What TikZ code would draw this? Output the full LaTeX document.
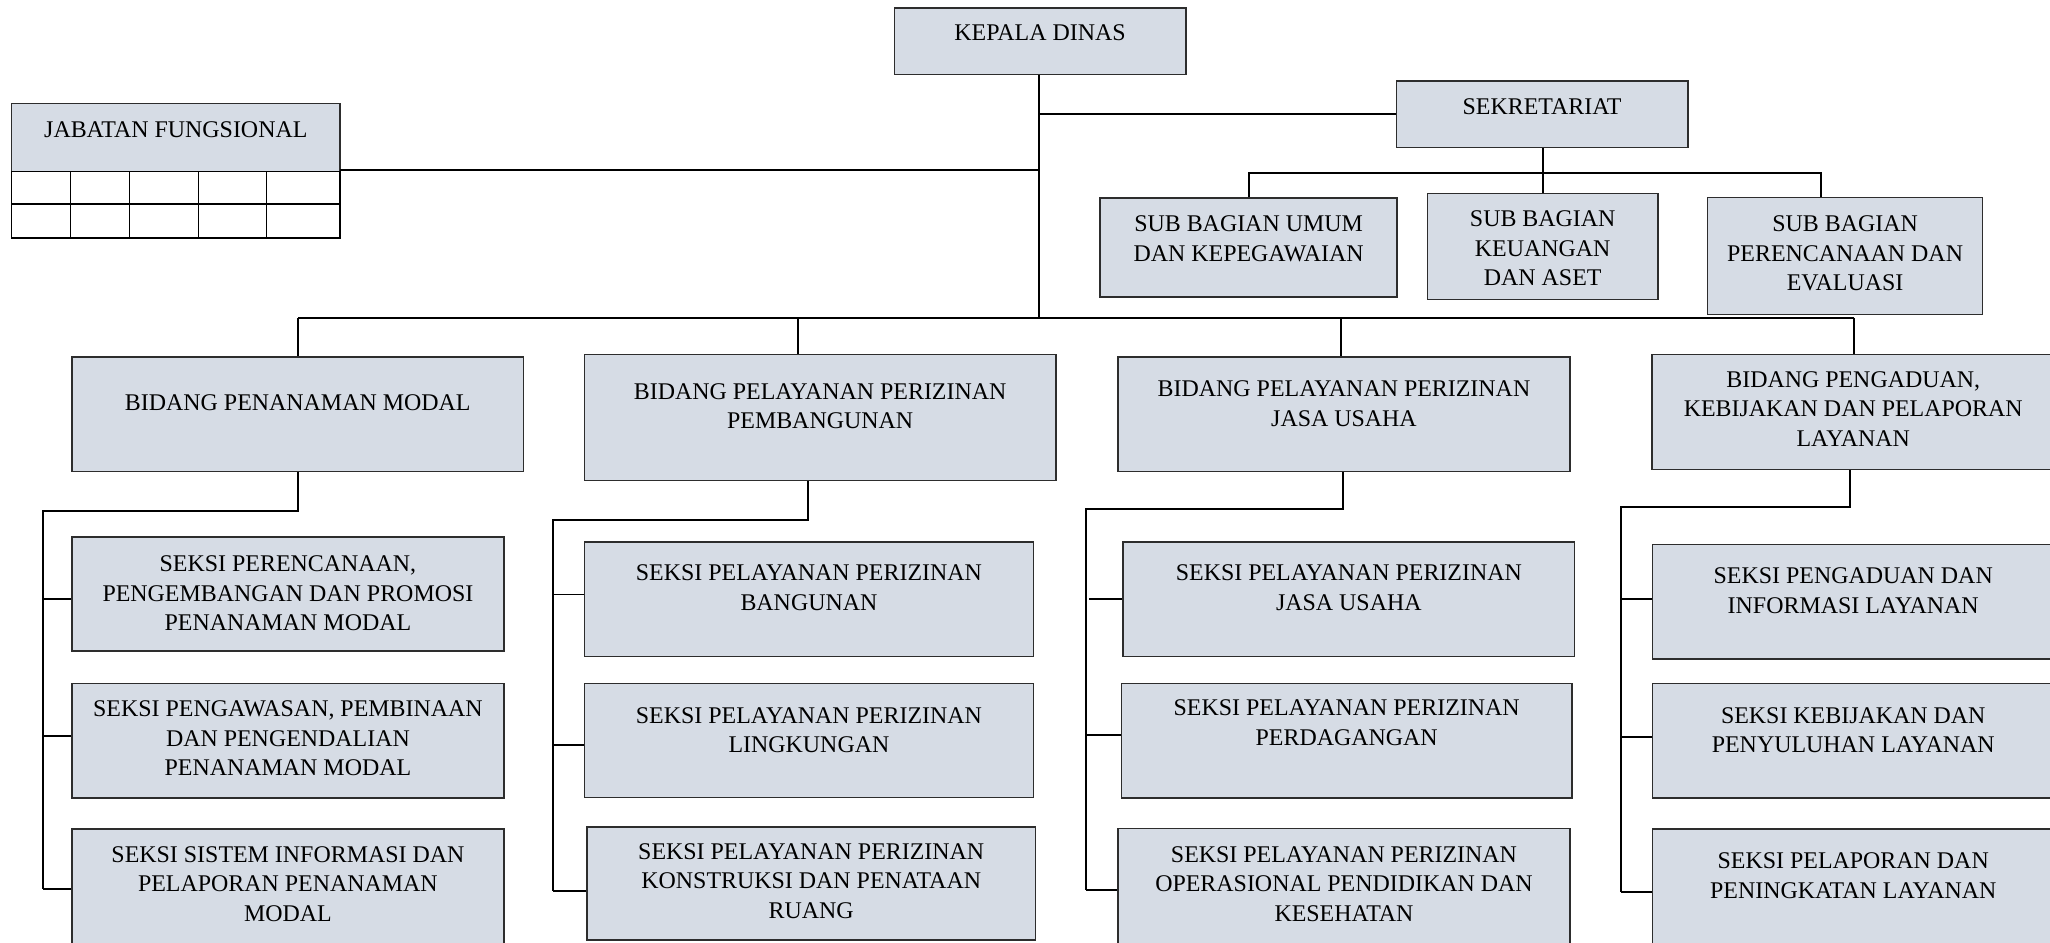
\documentclass[tikz,border=0pt]{standalone}
\usepackage{fontspec}
\setmainfont{Liberation Serif}
\usetikzlibrary{fit}
\definecolor{boxfill}{RGB}{214,220,229}
\definecolor{boxedge}{RGB}{45,45,45}
\tikzset{
  box/.style={draw=boxedge, line width=1.1pt, fill=boxfill, inner sep=0pt, rectangle},
  cell/.style={draw=black, line width=1.1pt, fill=white},
  txt/.style={anchor=north, inner sep=0pt, align=center, text=black,
    font=\fontsize{18.3}{22.6}\selectfont},
  conn/.style={draw=black, line width=1.5pt},
}
\begin{document}
\begin{tikzpicture}[x=1pt,y=-1pt]
\useasboundingbox (0,0) rectangle (1568,721);
\clip (0,0) rectangle (1568,721);

% ---- boxes ----
\node[box, fit={(684,6) (907,57)}] (kd) {};
\node[box, fit={(1068,62) (1291,113)}] (sek) {};
\node[box, fit={(9,79) (260,131)}] (jf) {};
\node[box, fit={(841.5,151.5) (1068.5,227)}] (umum) {};
\node[box, fit={(1092,148) (1268,229)}] (keu) {};
\node[box, fit={(1306,151) (1516.5,240.7)}] (pere) {};

\node[box, fit={(55,273) (400.5,360.6)}] (b1) {};
\node[box, fit={(447,271) (807.6,367.5)}] (b2) {};
\node[box, fit={(855,273) (1201,360.6)}] (b3) {};
\node[box, fit={(1263.7,271) (1572,359)}] (b4) {};

\node[box, fit={(55,410.8) (385.5,498)}] (s11) {};
\node[box, fit={(55,522.8) (385.5,610.4)}] (s12) {};
\node[box, fit={(55,634) (385.5,726)}] (s13) {};
\node[box, fit={(447,414.6) (790.5,502)}] (s21) {};
\node[box, fit={(447,522.8) (790.5,610)}] (s22) {};
\node[box, fit={(449,632.5) (792,719)}] (s23) {};
\node[box, fit={(859,414.6) (1204.4,502)}] (s31) {};
\node[box, fit={(857.6,522.8) (1202.5,610.4)}] (s32) {};
\node[box, fit={(855,633.5) (1201,728)}] (s33) {};
\node[box, fit={(1264,416.5) (1572,504)}] (s41) {};
\node[box, fit={(1264,522.8) (1572,610.4)}] (s42) {};
\node[box, fit={(1264,634) (1572,728)}] (s43) {};

% ---- table under Jabatan Fungsional ----
\foreach \xa/\xb in {9/54,54/99,99/152,152/204,204/260}{
  \draw[cell] (\xa,131) rectangle (\xb,156);
  \draw[cell] (\xa,156) rectangle (\xb,182);
}

% ---- texts ----
\node[txt] (kdT) at (kd.north |- 0,19) {KEPALA DINAS};
\node[txt] (sekT) at (sek.north |- 0,75) {SEKRETARIAT};
\node[txt] (jfT) at (jf.north |- 0,93) {JABATAN FUNGSIONAL};
\node[txt] (umumT) at (umum.north |- 0,165) {SUB BAGIAN UMUM\\DAN KEPEGAWAIAN};
\node[txt] (keuT) at (keu.north |- 0,161) {SUB BAGIAN\\KEUANGAN\\DAN ASET};
\node[txt] (pereT) at (pere.north |- 0,165) {SUB BAGIAN\\PERENCANAAN DAN\\EVALUASI};

\node[txt] (b1T) at (b1.north |- 0,302) {BIDANG PENANAMAN MODAL};
\node[txt] (b2T) at (b2.north |- 0,293) {BIDANG PELAYANAN PERIZINAN\\PEMBANGUNAN};
\node[txt] (b3T) at (b3.north |- 0,291) {BIDANG PELAYANAN PERIZINAN\\JASA USAHA};
\node[txt] (b4T) at (1417.5,284) {BIDANG PENGADUAN,\\KEBIJAKAN DAN PELAPORAN\\LAYANAN};

\node[txt] (s11T) at (s11.north |- 0,425) {SEKSI PERENCANAAN,\\PENGEMBANGAN DAN PROMOSI\\PENANAMAN MODAL};
\node[txt] (s12T) at (s12.north |- 0,536) {SEKSI PENGAWASAN, PEMBINAAN\\DAN PENGENDALIAN\\PENANAMAN MODAL};
\node[txt] (s13T) at (s13.north |- 0,647) {SEKSI SISTEM INFORMASI DAN\\PELAPORAN PENANAMAN\\MODAL};
\node[txt] (s21T) at (s21.north |- 0,432) {SEKSI PELAYANAN PERIZINAN\\BANGUNAN};
\node[txt] (s22T) at (s22.north |- 0,541) {SEKSI PELAYANAN PERIZINAN\\LINGKUNGAN};
\node[txt] (s23T) at (s23.north |- 0,645) {SEKSI PELAYANAN PERIZINAN\\KONSTRUKSI DAN PENATAAN\\RUANG};
\node[txt] (s31T) at (s31.north |- 0,432) {SEKSI PELAYANAN PERIZINAN\\JASA USAHA};
\node[txt] (s32T) at (s32.north |- 0,535) {SEKSI PELAYANAN PERIZINAN\\PERDAGANGAN};
\node[txt] (s33T) at (s33.north |- 0,647) {SEKSI PELAYANAN PERIZINAN\\OPERASIONAL PENDIDIKAN DAN\\KESEHATAN};
\node[txt] (s41T) at (1417.5,434) {SEKSI PENGADUAN DAN\\INFORMASI LAYANAN};
\node[txt] (s42T) at (1417.5,541) {SEKSI KEBIJAKAN DAN\\PENYULUHAN LAYANAN};
\node[txt] (s43T) at (1417.5,652) {SEKSI PELAPORAN DAN\\PENINGKATAN LAYANAN};

% ---- top connectors ----
\coordinate (mainJ) at (795,243);
\draw[conn] (795,0 |- kd.south) -- (mainJ);
\draw[conn] (795,0 |- sek.west) -- (sek.west);
\draw[conn] (260,130) -- (795,130);
\draw[conn] (1180,0 |- sek.south) -- (1180,0 |- keu.north);
\draw[conn] (umum.north) -- (955,132) -- (1393,132) -- (1393,0 |- pere.north);

% ---- main horizontal and drops to bidang ----
\draw[conn] (228,243) -- (1418,243);
\draw[conn] (228,243) -- (228,0 |- b1.north);
\draw[conn] (610,243) -- (610,0 |- b2.north);
\draw[conn] (1026,243) -- (1026,0 |- b3.north);
\draw[conn] (1418,243) -- (1418,0 |- b4.north);

% ---- bidang 1 ----
\draw[conn] (228,0 |- b1.south) -- (228,391) -- (33,391) -- (33,680);
\draw[conn] (33,458) -- (s11.west |- 0,458);
\draw[conn] (33,563) -- (s12.west |- 0,563);
\draw[conn] (33,680) -- (s13.west |- 0,680);

% ---- bidang 2 ----
\draw[conn] (618,0 |- b2.south) -- (618,398) -- (423,398) -- (423,681.5);
\draw[conn] (423,454.7) -- (s21.west |- 0,454.7);
\draw[conn] (423,570) -- (s22.west |- 0,570);
\draw[conn] (423,681.5) -- (s23.west |- 0,681.5);

% ---- bidang 3 ----
\draw[conn] (1027,0 |- b3.south) -- (1027,389) -- (831,389) -- (831,681);
\draw[conn] (833,458) -- (s31.west |- 0,458);
\draw[conn] (831,562) -- (s32.west |- 0,562);
\draw[conn] (831,681) -- (s33.west |- 0,681);

% ---- bidang 4 ----
\draw[conn] (1415,0 |- b4.south) -- (1415,387.5) -- (1240,387.5) -- (1240,682.6);
\draw[conn] (1240,458) -- (s41.west |- 0,458);
\draw[conn] (1240,563.4) -- (s42.west |- 0,563.4);
\draw[conn] (1240,682.6) -- (s43.west |- 0,682.6);
\end{tikzpicture}
\end{document}
